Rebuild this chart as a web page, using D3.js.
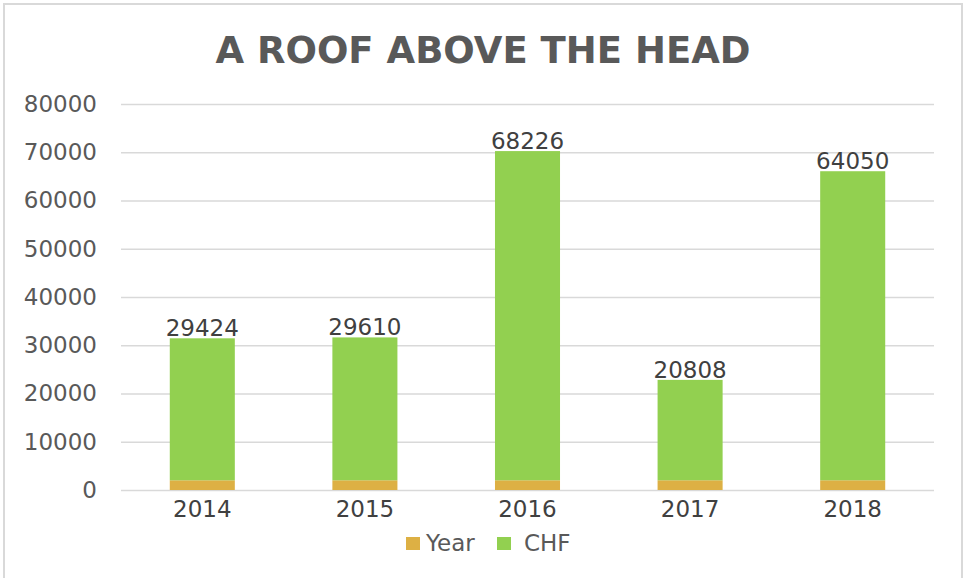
<!DOCTYPE html>
<html>
<head>
<meta charset="utf-8">
<script src="https://cdn.jsdelivr.net/npm/d3@7"></script>
<style>
  body { margin: 0; background: #fff; }
  svg { display: block; font-family: "DejaVu Sans", Verdana, sans-serif; }
</style>
</head>
<body>
<svg id="chart" width="964" height="578"></svg>
<script>
  const years = ['2014', '2015', '2016', '2017', '2018'];
  const yearValues = [2014, 2015, 2016, 2017, 2018];
  const chfValues = [29424, 29610, 68226, 20808, 64050];
  const yTicks = [0, 10000, 20000, 30000, 40000, 50000, 60000, 70000, 80000];
  const seriesNames = ['Year', 'CHF'];

  const GOLD = '#DDB044';
  const GREEN = '#92D050';
  const GRID = '#D9D9D9';
  const TEXT = '#595959';
  const LABEL = '#404040';

  const svg = d3.select('#chart');
  const margin = {top: 104, right: 30, bottom: 88, left: 121};
  const width = 964 - margin.left - margin.right;
  const height = 578 - margin.top - margin.bottom;

  // outer chart border (Excel chart area)
  svg.append('rect')
    .attr('x', 4).attr('y', 4)
    .attr('width', 958).attr('height', 590)
    .attr('fill', 'none')
    .attr('stroke', GRID)
    .attr('stroke-width', 2);

  svg.append('text')
    .attr('x', 483)
    .attr('y', 63)
    .attr('text-anchor', 'middle')
    .attr('fill', TEXT)
    .attr('font-weight', 'bold')
    .attr('font-size', 37)
    .text('A ROOF ABOVE THE HEAD');

  const g = svg.append('g').attr('transform', `translate(${margin.left},${margin.top})`);

  const x = d3.scaleBand().domain(years).range([0, width]).paddingInner(0.6).paddingOuter(0.3);
  const y = d3.scaleLinear().domain([0, 80000]).range([height, 0]);

  const rows = years.map((yr, i) => ({year: yr, Year: yearValues[i], CHF: chfValues[i]}));
  const stacked = d3.stack().keys(seriesNames)(rows);
  const color = d3.scaleOrdinal().domain(seriesNames).range([GOLD, GREEN]);

  // gridlines
  const yAxis = g.append('g')
    .call(d3.axisLeft(y).tickValues(yTicks).tickSize(-width).tickFormat(d3.format('d')).tickPadding(24));
  yAxis.select('.domain').remove();
  yAxis.selectAll('.tick line').attr('stroke', GRID).attr('stroke-width', 1.5);
  yAxis.selectAll('.tick text')
    .attr('fill', TEXT)
    .attr('font-size', 23)
    .attr('font-family', '"DejaVu Sans", Verdana, sans-serif');

  g.selectAll('.layer')
    .data(stacked)
    .join('g')
      .attr('class', 'layer')
      .attr('fill', d => color(d.key))
    .selectAll('rect')
    .data(d => d)
    .join('rect')
      .attr('x', d => x(d.data.year))
      .attr('y', d => y(d[1]))
      .attr('width', x.bandwidth())
      .attr('height', d => y(d[0]) - y(d[1]));

  // value labels sit on top of the stack
  const topLayer = stacked[stacked.length - 1];
  g.selectAll('.value-label')
    .data(topLayer)
    .join('text')
      .attr('class', 'value-label')
      .attr('x', d => x(d.data.year) + x.bandwidth() / 2)
      .attr('y', d => y(d[1]) - 2)
      .attr('text-anchor', 'middle')
      .attr('fill', LABEL)
      .attr('font-size', 23)
      .text(d => d.data.CHF);

  // category axis
  g.selectAll('.cat-label')
    .data(years)
    .join('text')
      .attr('class', 'cat-label')
      .attr('x', d => x(d) + x.bandwidth() / 2)
      .attr('y', height + 27)
      .attr('text-anchor', 'middle')
      .attr('fill', LABEL)
      .attr('font-size', 23)
      .text(d => d);

  // legend
  const legendPos = [406, 497];
  const legend = svg.selectAll('.legend')
    .data(seriesNames)
    .join('g')
      .attr('class', 'legend')
      .attr('transform', (d, i) => `translate(${legendPos[i]},537)`);

  legend.append('rect')
    .attr('width', 14).attr('height', 13)
    .attr('fill', d => color(d));

  legend.append('text')
    .attr('x', (d, i) => i === 0 ? 20 : 27)
    .attr('y', 14)
    .attr('fill', TEXT)
    .attr('font-size', 23)
    .text(d => d);
</script>
</body>
</html>
